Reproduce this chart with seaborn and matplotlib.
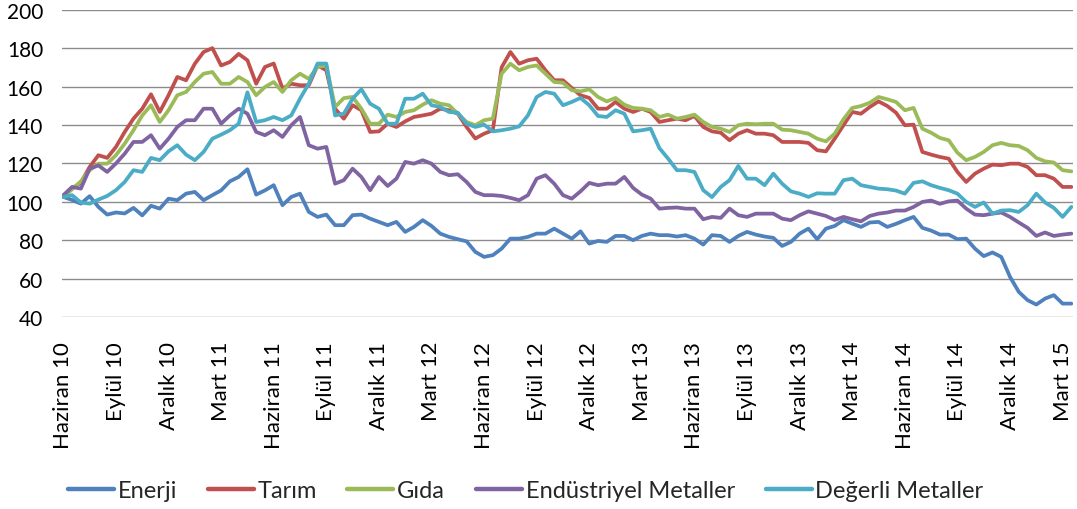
import matplotlib
matplotlib.use('Agg')
from matplotlib import pyplot as plt
import pandas as pd
import seaborn as sns

# semi-monthly readings, June 2010 -> mid March 2015
TICK_LABELS = [
    'Haziran 10', 'Eylül 10', 'Aralık 10', 'Mart 11',
    'Haziran 11', 'Eylül 11', 'Aralık 11', 'Mart 12',
    'Haziran 12', 'Eylül 12', 'Aralık 12', 'Mart 13',
    'Haziran 13', 'Eylül 13', 'Aralık 13', 'Mart 14',
    'Haziran 14', 'Eylül 14', 'Aralık 14', 'Mart 15',
]
SERIES = ['Enerji', 'Tarım', 'Gıda', 'Endüstriyel Metaller', 'Değerli Metaller']
COLORS = ['#4F81BD', '#C0504D', '#9BBB59', '#8064A2', '#4BACC6']

ENERJI = [
    102.6, 101.0, 99.1, 103.0, 97.4, 93.4, 94.5, 94.0, 96.9, 93.0,
    98.0, 96.5, 101.7, 100.9, 104.3, 105.2, 100.9, 103.5, 106.0, 110.7,
    113.0, 117.0, 103.8, 106.0, 108.7, 98.3, 102.6, 104.3, 94.8, 92.2,
    93.4, 87.9, 87.9, 93.1, 93.4, 91.3, 89.6, 87.9, 89.6, 84.4,
    87.0, 90.5, 87.5, 83.5, 81.8, 80.6, 79.5, 74.0, 71.4, 72.3,
    75.7, 80.9, 80.9, 81.8, 83.5, 83.5, 86.1, 83.5, 80.9, 84.7,
    78.3, 79.7, 79.2, 82.3, 82.3, 80.1, 82.3, 83.5, 82.7, 82.7,
    82.0, 82.7, 80.9, 77.8, 82.7, 82.3, 79.2, 82.3, 84.4, 83.0,
    82.0, 81.3, 77.1, 79.2, 83.5, 86.1, 80.6, 86.1, 87.5, 90.5,
    88.7, 87.0, 89.3, 89.6, 87.0, 88.6, 90.5, 92.2, 86.5, 85.1,
    83.0, 83.0, 80.6, 80.9, 75.7, 71.8, 73.7, 71.4, 61.0, 53.2,
    48.9, 46.6, 49.7, 51.5, 47.1, 47.1,
]
TARIM = [
    102.6, 106.9, 110.0, 118.2, 124.3, 122.9, 128.6, 136.4, 143.3, 148.5,
    156.0, 146.8, 155.5, 165.0, 163.3, 171.9, 178.0, 180.0, 171.0, 172.8,
    177.0, 173.7, 161.5, 170.2, 172.0, 159.0, 161.5, 160.7, 160.7, 171.0,
    168.5, 148.5, 143.3, 150.3, 147.7, 136.4, 136.7, 140.7, 139.0, 141.9,
    144.2, 145.0, 145.9, 148.5, 147.7, 145.9, 139.0, 133.0, 135.5, 137.3,
    170.0, 178.0, 171.9, 173.7, 174.5, 168.5, 163.3, 163.3, 159.3, 155.5,
    154.1, 148.5, 148.5, 152.0, 148.5, 146.8, 148.5, 146.8, 141.6, 142.5,
    143.3, 142.5, 144.7, 139.0, 136.7, 136.0, 132.1, 135.5, 137.3, 135.5,
    135.5, 134.7, 131.2, 131.2, 131.2, 130.7, 126.9, 126.3, 132.9, 139.9,
    146.8, 145.9, 149.4, 152.3, 149.9, 146.4, 139.9, 140.2, 126.0, 124.6,
    123.4, 122.5, 115.6, 110.4, 114.7, 117.3, 119.4, 119.1, 119.9, 119.9,
    118.2, 113.9, 113.9, 112.1, 107.8, 107.8,
]
GIDA = [
    102.6, 106.6, 110.7, 116.5, 119.9, 119.9, 124.3, 130.3, 137.3, 145.0,
    150.3, 141.6, 147.7, 155.5, 157.2, 162.4, 166.7, 167.6, 161.5, 161.5,
    165.0, 162.4, 155.5, 159.8, 162.4, 157.2, 163.3, 166.7, 164.0, 170.2,
    171.0, 149.4, 154.0, 154.6, 148.5, 140.7, 140.7, 145.4, 144.2, 146.8,
    147.7, 150.6, 152.9, 151.1, 150.3, 145.9, 141.6, 139.9, 142.5, 143.3,
    166.7, 171.9, 168.5, 170.2, 171.0, 166.7, 162.4, 162.0, 158.1, 157.5,
    158.6, 154.6, 152.3, 154.1, 150.6, 148.9, 148.5, 147.7, 144.2, 145.4,
    143.3, 144.2, 145.4, 141.6, 139.0, 138.1, 136.4, 139.9, 140.7, 140.4,
    140.7, 140.7, 137.6, 137.3, 136.4, 135.5, 132.9, 131.5, 135.5, 143.0,
    148.9, 149.9, 151.6, 154.6, 153.4, 152.0, 147.7, 148.9, 138.1, 136.0,
    133.3, 132.1, 125.6, 121.7, 123.4, 126.0, 129.5, 130.7, 129.5, 129.1,
    126.9, 122.9, 121.1, 120.5, 116.5, 115.9,
]
ENDUSTRIYEL = [
    103.5, 107.8, 106.9, 117.3, 119.0, 115.6, 120.0, 125.1, 131.2, 131.2,
    134.7, 127.7, 132.9, 139.0, 142.5, 142.5, 148.5, 148.5, 140.7, 145.0,
    148.5, 145.9, 136.4, 134.7, 137.3, 133.8, 139.9, 144.2, 129.5, 127.7,
    128.6, 109.5, 111.3, 117.3, 113.0, 106.1, 113.0, 108.3, 112.1, 120.8,
    119.9, 121.7, 119.9, 115.6, 113.9, 114.4, 110.4, 105.2, 103.5, 103.5,
    103.1, 102.1, 100.9, 103.5, 112.1, 113.9, 109.5, 103.5, 101.7, 105.5,
    109.9, 108.7, 109.5, 109.5, 113.0, 107.3, 103.8, 101.7, 96.5, 96.9,
    97.1, 96.5, 96.5, 91.0, 92.2, 91.7, 96.5, 93.1, 92.2, 93.9,
    93.9, 93.9, 91.3, 90.5, 93.1, 95.1, 93.9, 92.7, 90.6, 92.2,
    91.0, 89.9, 92.7, 93.9, 94.5, 95.5, 95.5, 97.4, 100.0, 100.7,
    99.0, 100.3, 100.7, 96.5, 93.4, 93.1, 93.9, 94.5, 92.2, 89.3,
    86.5, 82.3, 84.1, 82.3, 83.0, 83.5,
]
DEGERLI = [
    102.6, 103.5, 99.7, 99.1, 101.2, 103.1, 106.1, 110.4, 116.5, 115.6,
    122.9, 121.7, 126.3, 129.5, 124.6, 121.7, 126.0, 132.9, 135.0, 137.3,
    140.7, 157.0, 141.6, 142.5, 144.2, 142.5, 145.0, 153.7, 161.5, 172.0,
    172.0, 145.0, 145.9, 153.7, 158.6, 151.1, 148.5, 140.7, 140.7, 153.7,
    153.7, 156.3, 150.3, 149.4, 146.8, 146.4, 140.7, 139.0, 140.2, 136.7,
    137.3, 138.1, 139.3, 145.0, 154.6, 157.2, 156.3, 150.3, 152.0, 154.1,
    150.3, 144.7, 144.2, 147.7, 145.9, 136.7, 137.3, 138.1, 128.0, 122.5,
    116.5, 116.5, 115.6, 106.1, 102.5, 107.8, 111.3, 118.7, 112.1, 112.1,
    108.7, 114.7, 109.5, 105.5, 104.3, 102.6, 104.5, 104.3, 104.3, 111.3,
    112.1, 108.7, 107.8, 106.9, 106.6, 105.9, 104.3, 109.9, 110.7, 108.7,
    107.3, 106.1, 104.3, 100.0, 97.4, 99.7, 93.9, 95.5, 95.7, 94.8,
    98.3, 104.3, 99.7, 96.9, 92.2, 97.4,
]

wide = pd.DataFrame({
    'Enerji': ENERJI,
    'Tarım': TARIM,
    'Gıda': GIDA,
    'Endüstriyel Metaller': ENDUSTRIYEL,
    'Değerli Metaller': DEGERLI,
})
wide['period'] = range(len(wide))
data = wide.melt(id_vars='period', var_name='series', value_name='index')

sns.set_theme(style='white')
plt.rcParams['font.family'] = ['Lato', 'DejaVu Sans']

fig = plt.figure(figsize=(10.77, 5.10), dpi=100)
ax = fig.add_axes([0.058, 0.376, 0.938, 0.603])

sns.lineplot(data=data, x='period', y='index', hue='series', hue_order=SERIES,
             palette=COLORS, linewidth=2.7, ax=ax)

ax.set_ylim(40, 200)
ax.set_yticks(range(40, 201, 20))
ax.set_xlim(-0.1, len(wide) - 0.85)
ax.set_xticks(range(0, 6 * len(TICK_LABELS), 6))
ax.set_xticklabels(TICK_LABELS, rotation=90)
ax.grid(axis='y', color='#8c8c8c', linewidth=1.0)
ax.set_axisbelow(True)
ax.tick_params(length=0, labelcolor='black')
ax.tick_params(axis='y', pad=14, labelsize=15)
ax.tick_params(axis='x', pad=17, labelsize=16)
ax.set_xlabel('')
ax.set_ylabel('')
for spine in ax.spines.values():
    spine.set_visible(False)

handles, labels = ax.get_legend_handles_labels()
ax.get_legend().remove()
leg = fig.legend(handles, labels, loc='center', bbox_to_anchor=(0.488, 0.036), ncol=5,
                 frameon=False, fontsize=17, handlelength=1.95, handletextpad=0.16,
                 columnspacing=1.3)
for line in leg.get_lines():
    line.set_linewidth(3.2)

fig.savefig('out.png', dpi=100)
